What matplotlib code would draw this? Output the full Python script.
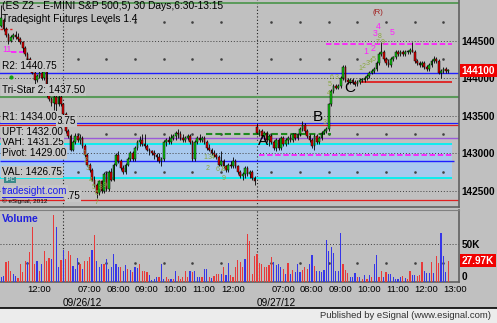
import numpy as np
import matplotlib
matplotlib.use("Agg")
import matplotlib.pyplot as plt
import matplotlib.transforms as mtransforms
from matplotlib.lines import Line2D
from matplotlib.patches import Rectangle

plt.rcParams["font.family"] = ["Liberation Sans", "DejaVu Sans"]

# ---------------- data (ES Z2, 5 min bars) ----------------
# (open, high, low, close); 09/25 tail, 09/26 session, 09/27 session
day0_bars = [
    (1447.0, 1449.75, 1446.75, 1448.0), (1447.75, 1448.0, 1446.25, 1446.5),
    (1446.5, 1446.75, 1445.5, 1445.75), (1445.75, 1446.0, 1444.5, 1445.0),
    (1445.0, 1445.75, 1444.75, 1445.5), (1445.5, 1446.0, 1445.25, 1445.75),
    (1445.75, 1446.25, 1445.25, 1445.5), (1445.5, 1446.0, 1445.0, 1445.25),
    (1445.25, 1445.5, 1444.5, 1444.75), (1444.75, 1445.0, 1443.5, 1444.0),
    (1444.0, 1444.25, 1443.0, 1443.25), (1443.25, 1443.5, 1442.25, 1442.5),
    (1442.5, 1442.75, 1441.5, 1441.75), (1441.75, 1442.0, 1440.5, 1440.75),
    (1440.75, 1441.0, 1437.75, 1439.75), (1439.75, 1440.5, 1439.5, 1440.25),
    (1440.25, 1441.0, 1440.0, 1440.75), (1440.75, 1441.25, 1439.75, 1440.0),
    (1440.0, 1441.5, 1439.75, 1441.0), (1441.0, 1441.25, 1437.5, 1437.75),
    (1437.75, 1438.0, 1437.0, 1437.25), (1437.25, 1437.5, 1436.25, 1436.75),
    (1436.75, 1437.75, 1435.75, 1437.5), (1437.5, 1437.75, 1435.5, 1436.5),
    (1436.5, 1437.75, 1436.25, 1437.5), (1437.5, 1437.75, 1436.25, 1436.5),
]
day1_bars = [
    (1436.5, 1436.75, 1435.0, 1435.25), (1435.25, 1435.5, 1432.75, 1433.0),
    (1433.0, 1433.25, 1432.0, 1432.25), (1432.25, 1432.5, 1430.25, 1430.5),
    (1430.5, 1431.75, 1430.25, 1431.5), (1431.5, 1432.75, 1431.25, 1432.25),
    (1432.25, 1432.5, 1431.5, 1431.75), (1431.75, 1432.5, 1431.25, 1432.0),
    (1432.0, 1432.25, 1430.75, 1431.0), (1431.0, 1431.25, 1429.5, 1429.75),
    (1429.75, 1430.0, 1428.25, 1428.5), (1428.5, 1428.75, 1427.5, 1427.75),
    (1427.75, 1428.0, 1426.25, 1426.5), (1426.5, 1427.0, 1425.5, 1425.75),
    (1425.75, 1426.0, 1424.0, 1424.75), (1424.75, 1426.5, 1424.5, 1426.25),
    (1426.25, 1426.5, 1424.75, 1425.0), (1425.0, 1427.5, 1424.75, 1427.25),
    (1427.25, 1427.5, 1425.0, 1425.25), (1425.25, 1427.75, 1425.0, 1427.5),
    (1427.5, 1428.0, 1426.25, 1426.5), (1426.5, 1428.75, 1426.25, 1428.5),
    (1428.5, 1430.0, 1428.25, 1429.75), (1429.75, 1430.25, 1428.75, 1429.0),
    (1429.0, 1429.25, 1427.75, 1428.0), (1428.0, 1428.5, 1427.25, 1427.5),
    (1427.5, 1428.75, 1427.25, 1428.5), (1428.5, 1429.5, 1428.25, 1429.25),
    (1429.25, 1430.25, 1429.0, 1430.0), (1430.0, 1430.25, 1429.0, 1429.25),
    (1429.25, 1431.0, 1429.0, 1430.75), (1430.75, 1431.75, 1430.5, 1431.5),
    (1431.5, 1432.25, 1431.0, 1431.75), (1431.75, 1432.5, 1431.0, 1431.25),
    (1431.25, 1432.5, 1430.75, 1431.0), (1431.0, 1431.25, 1430.25, 1430.5),
    (1430.5, 1430.75, 1429.75, 1430.25), (1430.25, 1430.5, 1429.75, 1430.0),
    (1430.0, 1430.5, 1429.25, 1429.75), (1429.75, 1430.0, 1429.0, 1429.5),
    (1429.5, 1430.0, 1428.75, 1429.0), (1429.0, 1429.5, 1428.25, 1429.25),
    (1429.25, 1431.75, 1429.0, 1431.5), (1431.5, 1432.0, 1431.0, 1431.75),
    (1431.75, 1432.25, 1431.25, 1431.5), (1431.5, 1432.5, 1431.25, 1432.0),
    (1432.0, 1432.5, 1431.75, 1432.25), (1432.25, 1433.0, 1431.75, 1432.75),
    (1432.75, 1433.25, 1432.0, 1432.5), (1432.5, 1433.0, 1431.75, 1432.0),
    (1432.0, 1432.5, 1431.5, 1431.75), (1431.75, 1432.25, 1431.5, 1432.0),
    (1432.0, 1432.5, 1431.75, 1432.25), (1432.25, 1432.5, 1431.25, 1431.5),
    (1431.5, 1431.75, 1429.0, 1429.25), (1429.25, 1431.75, 1429.0, 1431.5),
    (1431.5, 1432.25, 1431.25, 1432.0), (1432.0, 1432.5, 1431.5, 1431.75),
    (1431.75, 1432.25, 1431.5, 1432.0), (1432.0, 1432.25, 1431.25, 1431.5),
    (1431.5, 1431.75, 1430.5, 1430.75), (1430.75, 1431.25, 1430.25, 1430.5),
    (1430.5, 1430.75, 1429.75, 1430.0), (1430.0, 1430.5, 1429.5, 1429.75),
    (1429.75, 1430.0, 1429.25, 1429.5), (1429.5, 1429.75, 1428.25, 1428.5),
    (1428.5, 1430.25, 1428.25, 1429.0), (1429.0, 1429.25, 1428.0, 1428.25),
    (1428.25, 1428.5, 1427.5, 1427.75), (1427.75, 1428.75, 1427.5, 1428.5),
    (1428.5, 1429.0, 1428.0, 1428.25), (1428.25, 1429.5, 1428.0, 1429.0),
    (1429.0, 1429.25, 1428.0, 1428.25), (1428.25, 1428.5, 1427.25, 1427.5),
    (1427.5, 1427.75, 1426.75, 1427.0), (1427.0, 1427.5, 1426.5, 1427.25),
    (1427.25, 1428.25, 1426.75, 1428.0), (1428.0, 1428.25, 1427.0, 1427.25),
    (1427.25, 1427.75, 1426.75, 1427.5), (1427.5, 1427.75, 1426.5, 1426.75),
    (1426.75, 1427.0, 1425.75, 1426.25),
]
day2_bars = [
    (1433.5, 1434.0, 1432.5, 1432.75), (1432.75, 1433.25, 1432.25, 1433.0),
    (1433.0, 1433.25, 1432.0, 1432.25), (1432.25, 1433.0, 1431.75, 1432.75),
    (1432.75, 1433.0, 1431.5, 1431.75), (1431.75, 1432.5, 1431.0, 1432.25),
    (1432.25, 1432.5, 1431.25, 1431.5), (1431.5, 1431.75, 1430.5, 1430.75),
    (1430.75, 1432.0, 1430.25, 1431.75), (1431.75, 1432.0, 1430.5, 1430.75),
    (1430.75, 1432.25, 1430.5, 1432.0), (1432.0, 1432.25, 1431.0, 1431.25),
    (1431.25, 1432.0, 1431.0, 1431.75), (1431.75, 1432.25, 1431.25, 1432.0),
    (1432.0, 1432.5, 1431.5, 1431.75), (1431.75, 1432.75, 1431.5, 1432.5),
    (1432.5, 1432.75, 1431.75, 1432.0), (1432.0, 1432.75, 1431.75, 1432.5),
    (1432.5, 1433.5, 1432.25, 1433.25), (1433.25, 1434.25, 1433.0, 1433.75),
    (1433.75, 1434.0, 1432.75, 1433.0), (1433.0, 1433.25, 1432.0, 1432.25),
    (1432.25, 1432.5, 1431.5, 1431.75), (1431.75, 1432.0, 1430.75, 1431.0),
    (1431.0, 1432.5, 1430.5, 1432.25), (1432.25, 1432.5, 1431.25, 1431.5),
    (1431.5, 1432.25, 1431.25, 1432.0), (1432.0, 1433.0, 1431.75, 1432.75),
    (1432.75, 1433.25, 1432.5, 1433.0), (1433.0, 1433.5, 1432.75, 1433.25),
    (1433.25, 1436.75, 1433.0, 1436.5), (1436.5, 1438.5, 1436.25, 1438.25),
    (1438.25, 1439.25, 1438.0, 1439.0), (1439.0, 1439.25, 1438.5, 1438.75),
    (1438.75, 1439.25, 1438.5, 1439.0), (1439.0, 1440.25, 1438.75, 1440.0),
    (1440.0, 1441.75, 1439.75, 1441.5), (1441.5, 1441.75, 1439.5, 1439.75),
    (1439.75, 1440.0, 1439.25, 1439.5), (1439.5, 1440.0, 1439.25, 1439.75),
    (1439.75, 1440.0, 1439.25, 1439.5), (1439.5, 1439.75, 1439.0, 1439.25),
    (1439.25, 1439.75, 1439.0, 1439.5), (1439.5, 1440.0, 1439.25, 1439.75),
    (1439.75, 1440.0, 1439.5, 1439.75), (1439.75, 1440.25, 1439.5, 1440.0),
    (1440.0, 1440.5, 1439.75, 1440.25), (1440.25, 1441.0, 1440.0, 1440.75),
    (1440.75, 1441.25, 1440.5, 1441.0), (1441.0, 1441.5, 1440.75, 1441.25),
    (1441.25, 1442.25, 1441.0, 1442.0), (1442.0, 1443.5, 1441.75, 1443.25),
    (1443.25, 1444.75, 1443.0, 1443.5), (1443.5, 1443.75, 1442.25, 1442.5),
    (1442.5, 1442.75, 1441.75, 1442.0), (1442.0, 1442.5, 1441.5, 1441.75),
    (1441.75, 1442.75, 1441.5, 1442.5), (1442.5, 1443.0, 1442.25, 1442.75),
    (1442.75, 1443.75, 1442.5, 1443.5), (1443.5, 1443.75, 1443.0, 1443.25),
    (1443.25, 1443.75, 1443.0, 1443.5), (1443.5, 1443.75, 1443.0, 1443.25),
    (1443.25, 1443.75, 1443.0, 1443.5), (1443.5, 1443.75, 1443.25, 1443.5),
    (1443.5, 1444.0, 1443.25, 1443.75), (1443.75, 1444.75, 1443.5, 1443.5),
    (1443.5, 1443.75, 1442.0, 1442.25), (1442.25, 1442.5, 1441.75, 1442.0),
    (1442.0, 1442.25, 1441.5, 1441.75), (1441.75, 1442.25, 1441.5, 1442.0),
    (1442.0, 1442.25, 1441.25, 1441.5), (1441.5, 1441.75, 1441.0, 1441.25),
    (1441.25, 1442.0, 1441.0, 1441.75), (1441.75, 1442.5, 1441.5, 1442.25),
    (1442.25, 1443.0, 1442.0, 1442.5), (1442.5, 1442.75, 1442.0, 1442.25),
    (1442.25, 1442.5, 1440.5, 1440.75), (1440.75, 1441.25, 1440.0, 1441.0),
    (1441.0, 1441.5, 1440.75, 1441.25), (1441.25, 1441.5, 1440.75, 1441.0),
    (1441.0, 1441.25, 1440.75, 1441.0),
]

# volume in thousands, colour code: b = up volume, r = down volume
day0_volume = [6, 8, 26, 28, 14, 10, 8, 5, 24, 13, 28, 26, 39, 72, 23, 28, 15,
               24, 40, 27, 31, 30, 87, 72, 20, 29]
day1_volume = [42, 30, 40, 35, 21, 17, 31, 23, 17, 27, 28, 33, 42, 62, 28, 19,
               24, 23, 30, 17, 20, 36, 23, 19, 20, 14, 22, 17, 16, 13, 19, 18,
               23, 15, 14, 13, 9, 3, 4, 7, 7, 23, 4, 7, 4, 4, 4, 15, 8, 4, 7,
               14, 6, 14, 13, 14, 7, 7, 7, 17, 17, 7, 5, 8, 10, 10, 11, 19, 9,
               25, 9, 7, 19, 29, 26, 20, 30, 63, 54, 11, 34]
day2_volume = [37, 25, 24, 20, 19, 22, 33, 26, 22, 24, 19, 17, 11, 25, 11, 16,
               13, 23, 13, 16, 19, 17, 24, 35, 21, 15, 14, 13, 16, 55, 41, 46,
               38, 14, 15, 64, 24, 16, 12, 7, 7, 12, 7, 7, 4, 9, 4, 9, 7, 24,
               35, 7, 14, 7, 13, 11, 10, 7, 4, 4, 6, 8, 5, 4, 15, 9, 9, 8, 9,
               26, 14, 12, 12, 26, 12, 34, 25, 64, 34, 13, 27.97]
day0_vol_dir = "bbrrrbbrrrrbrrrbrbrrrbrbbr"
day1_vol_dir = ("brrrbbbrbr" "rrbrbbbrbb" "bbbbrbbrbr" "bbrrrrbbbb" "rbbrrbrbrr"
                "rrrbrbbbrb" "brbrrrbrbb" "rrrrrrbrrr" "r")
day2_vol_dir = ("rrrrrrrbbb" "brbrbrbbbr" "rrbbrbbbbb" "bbbbbbrrrb" "bbrbrbrbrb"
                "brrbrbbbbb" "brbrrbbrrr" "bbbrbrrbbb" "r")

# time axis
time_tick_bars = [11, 32, 44, 56, 68, 80, 92, 113, 125, 137, 149, 161, 173, 185]
time_tick_labels = ["12:00", "07:00", "08:00", "09:00", "10:00", "11:00",
                    "12:00", "07:00", "08:00", "09:00", "10:00", "11:00",
                    "12:00", "13:00"]
session_starts = [26, 107]
session_dates = ["09/26/12", "09/27/12"]

# Tradesight levels
r2 = 1440.75
tri_star = 1437.50
r1 = 1434.00
r1_low = 1433.75
upt = 1432.00
vah = 1431.25
pivot = 1429.00
val = 1426.75
s_low = 1423.75
top_level = 1450.0
last_price = 1441.00
last_volume = 27.97

bars = day0_bars + day1_bars + day2_bars
o, h, l, c = (np.array(v) for v in zip(*bars))
volume = np.array(day0_volume + day1_volume + day2_volume)
vol_dir = day0_vol_dir + day1_vol_dir + day2_vol_dir
idx = np.arange(len(bars))

# ---------------- figure ----------------
W, H = 497, 323
BG = "#c0c0c0"
fig = plt.figure(figsize=(W / 100, H / 100), dpi=100, facecolor=BG)
ax = fig.add_axes([0, (H - 207) / H, 459 / W, 207 / H], facecolor=BG)
axv = fig.add_axes([0, (H - 282) / H, 459 / W, 72 / H], facecolor=BG)

xmin, xmax = -0.5, 191.5
ax.set_xlim(xmin, xmax)
ax.set_ylim(1422.85, 1450.4)
axv.set_xlim(xmin, xmax)
axv.set_ylim(0, 94)

for a in (ax, axv):
    for side in ("left", "top"):
        a.spines[side].set_visible(False)
    for side in ("right", "bottom"):
        a.spines[side].set_color("#606060")
        a.spines[side].set_linewidth(1.2)
axv.spines["top"].set_visible(True)
axv.spines["top"].set_color("#808080")

dot = (0, (1, 2))
# grid
for p in [1425, 1430, 1435, 1440, 1445]:
    ax.axhline(p, color="#404040", lw=0.7, ls=dot, zorder=1)
axv.axhline(50, color="#404040", lw=0.7, ls=dot, zorder=1)
for p in [1427.5, 1432.5, 1442.5, 1447.5]:
    ax.plot(time_tick_bars, [p] * len(time_tick_bars), ls="none", marker="s",
            ms=0.8, color="#404040", zorder=1)
axv.plot(time_tick_bars, [25] * len(time_tick_bars), ls="none", marker="s",
         ms=0.8, color="#404040", zorder=1)
for s in session_starts:
    ax.axvline(s, color="#202020", lw=0.8, ls=dot, zorder=1)
    axv.axvline(s, color="#202020", lw=0.8, ls=dot, zorder=1)

# value area fill and level lines
ax.fill_between([xmin, 188.6], vah, val, color="#a9c9ee", zorder=0.5, lw=0)
ax.axhline(top_level, color="#5a9a5a", lw=1.4, zorder=2)
ax.axhline(r2, color="#1e1eff", lw=1.0, zorder=2)
ax.axhline(tri_star, color="#5a9a5a", lw=1.5, zorder=2)
ax.axhline(r1, color="#1e1eff", lw=0.9, zorder=2)
ax.axhline(r1_low, color="#e02020", lw=0.9, zorder=2)
ax.axhline(upt, color="#9a5ad8", lw=1.0, zorder=2)
ax.hlines([vah, val], xmin, 188.6, color="#00f0f0", lw=1.3, zorder=2)
ax.hlines(pivot, xmin, 189.5, color="#1e1eff", lw=1.0, zorder=2)
ax.axhline(s_low, color="#e02020", lw=0.9, zorder=2)
ax.hlines(1432.5, 85.8, 138, color="#1e8a1e", lw=1.5, ls=(0, (3, 1.5)), zorder=2)
ax.hlines(1444.5, 136, 188.5, color="#ff20ff", lw=1.3, ls=(0, (3, 1.5)), zorder=2)
ax.hlines(1429.75, 108, 188.5, color="#ff20ff", lw=1.3, ls=(0, (3, 1.5)), zorder=2)
ax.hlines(1439.5, 150.5, 188.5, color="#e02020", lw=1.3, zorder=2)
ax.hlines(1443.5, 4, 10, color="#ff20ff", lw=1.3, ls=(0, (3, 1.5)), zorder=2)
ax.hlines(1446.5, xmin, 4.5, color="#e02020", lw=1.0, ls=(0, (2, 1.5)), zorder=2)
ax.plot([4.1], [1440.1], marker="o", ms=2, color="#10a010", zorder=3)

# candles
up = c >= o
ax.vlines(idx, l, h, color="black", lw=0.6, zorder=3)
body = np.maximum(np.abs(c - o), 0.08)
ax.bar(idx, body, bottom=np.minimum(o, c), width=0.72,
       color=np.where(up, "#10c810", "#e00000"), edgecolor="black",
       linewidth=0.35, zorder=4)

# volume bars
vcol = ["#3636e8" if d == "b" else "#e83a3a" for d in vol_dir]
axv.bar(idx, volume, width=0.5, color=vcol, zorder=3)

# ---------------- axes labels ----------------
ax.yaxis.tick_right()
ax.set_yticks([1425, 1430, 1435, 1440, 1445])
ax.set_yticklabels([f"{p * 100:.0f}" for p in [1425, 1430, 1435, 1440, 1445]])
ax.tick_params(axis="y", length=0, pad=2, labelsize=7.2)
for t in ax.get_yticklabels():
    t.set_fontweight("bold")
ax.set_xticks([])

axv.yaxis.tick_right()
axv.set_yticks([0, 50])
axv.set_yticklabels(["0", "50K"])
axv.tick_params(axis="y", length=0, pad=2, labelsize=7.2)
for t in axv.get_yticklabels():
    t.set_fontweight("bold")
axv.get_yticklabels()[0].set_va("bottom")
axv.set_xticks(time_tick_bars)
axv.set_xticklabels(time_tick_labels)
axv.tick_params(axis="x", length=0, pad=2.5, labelsize=6.8)
for t in axv.get_xticklabels():
    t.set_ha("left")

tr_v = mtransforms.blended_transform_factory(axv.transData, axv.transAxes)
for s, d in zip(session_starts, session_dates):
    axv.text(s - 0.3, -0.285, d, transform=tr_v, ha="left", va="center",
             fontsize=7.2)

tr_r = mtransforms.blended_transform_factory(ax.transAxes, ax.transData)
ax.text(1.006, last_price, f"{last_price * 100:.0f}", transform=tr_r,
        ha="left", va="center", fontsize=7.2, fontweight="bold", color="white",
        bbox=dict(boxstyle="square,pad=0.18", fc="#f00000", ec="none"), zorder=6)
tr_rv = mtransforms.blended_transform_factory(axv.transAxes, axv.transData)
axv.text(1.006, last_volume, f"{last_volume:.2f}K", transform=tr_rv,
         ha="left", va="center", fontsize=7.2, fontweight="bold", color="white",
         bbox=dict(boxstyle="square,pad=0.18", fc="#f00000", ec="none"), zorder=6)
axv.text(2 / 459, 0.875, "Volume", transform=axv.transAxes, ha="left",
         va="center", fontsize=7.5, fontweight="bold", color="#2020dd")

# titles
fig.text(2 / W, 1 - 6 / H, "(ES Z2 - E-MINI S&P 500,5) 30 Days,6:30-13:15",
         ha="left", va="center", fontsize=7.4)
fig.text(2 / W, 1 - 19 / H, "Tradesight Futures Levels 1.4",
         ha="left", va="center", fontsize=7.4)

# level labels on the left
lab_box = dict(boxstyle="square,pad=0.08", fc="#c6c6c6", ec="none")
for y, txt in [(1441.6, "R2: 1440.75"), (1438.4, "Tri-Star 2: 1437.50"),
               (1431.45, "VAH: 1431.25"), (1432.83, "UPT: 1432.00"),
               (1430.04, "Pivot: 1429.00"), (1427.5, "VAL: 1426.75")]:
    ax.text(0.3, y, txt, ha="left", va="center", fontsize=7.2, bbox=lab_box,
            zorder=7)
ax.text(23.3, 1434.3, "3.75", ha="left", va="center", fontsize=7.2,
        bbox=lab_box, zorder=7)
ax.text(0.3, 1434.83, "R1: 1434.00", ha="left", va="center", fontsize=7.2,
        bbox=lab_box, zorder=7)
ax.text(1.6, 1426.45, "IPC", ha="left", va="center", fontsize=4.2,
        color="white", bbox=dict(boxstyle="square,pad=0.15", fc="#3a8a8a",
                                 ec="none"), zorder=7)
ax.text(27.2, 1424.3, ".75", ha="left", va="center", fontsize=7.2,
        bbox=lab_box, zorder=7)
ax.text(0.3, 1425.0, "tradesight.com", ha="left", va="center", fontsize=7.2,
        color="#1a1aee", bbox=lab_box, zorder=7)
fig.add_artist(Line2D([2 / W, 62 / W], [1 - 197 / H] * 2, color="#1a1aee",
                      lw=0.7))
ax.text(0.3, 1423.62, "\u00a9 eSignal, 2012", ha="left", va="center",
        fontsize=4.6, zorder=7)
ax.text(0.3, 1443.8, "11", ha="left", va="center", fontsize=6.5,
        color="#ff20ff", zorder=7)

# A / B / C
for x, y, t in [(109.5, 1431.7, "A"), (132.6, 1434.8, "B"), (145.9, 1438.7, "C")]:
    ax.text(x, y, t, ha="center", va="center", fontsize=11, zorder=7)

# sequential counts
td_green = [(34.6, 1430.0, "1"), (35.5, 1429.0, "2"), (36.3, 1428.0, "3"),
            (37.6, 1426.4, "4"), (38.8, 1425.5, "5"), (39.7, 1424.6, "6"),
            (40.1, 1423.4, "7"), (41.8, 1425.4, "8"), (43.4, 1425.7, "9"),
            (85.3, 1429.5, "1"), (86.5, 1428.0, "2"), (87.4, 1429.5, "3"),
            (88.6, 1429.5, "4"), (90.7, 1427.9, "6"), (92.0, 1427.9, "7"),
            (93.2, 1427.9, "8"), (93.2, 1426.6, "9"), (135.3, 1434.1, "3"),
            (137.2, 1438.0, "4"), (137.6, 1439.1, "5"), (138.4, 1440.15, "6"),
            (140.5, 1440.15, "3"), (150.4, 1441.3, "1"), (151.8, 1441.6, "2"),
            (153.2, 1441.9, "3"), (154.6, 1442.2, "4"), (156.0, 1442.5, "5"),
            (157.5, 1444.8, "7"), (158.3, 1445.6, "8"), (159.6, 1444.8, "9")]
for x, y, t in td_green:
    ax.text(x, y, t, ha="center", va="center", fontsize=5.0, color="#8aa840",
            zorder=8)
for x, y, t in [(152.6, 1443.6, "1"), (155.6, 1444.0, "2"), (156.4, 1446.0, "3"),
                (157.7, 1446.9, "4"), (163.5, 1446.1, "5")]:
    ax.text(x, y, t, ha="center", va="center", fontsize=6.3, color="#ff20ff",
            zorder=8)
ax.text(157.7, 1448.7, "(R)", ha="center", va="center", fontsize=5.6,
        color="#a01818", zorder=8)

# footer strip
fig.add_artist(Rectangle((0, 0), 1, 15 / H, transform=fig.transFigure,
                         facecolor="#ececec", edgecolor="none"))
fig.add_artist(Line2D([0, 1], [15 / H] * 2, color="black", lw=1.2))
fig.text(491 / W, 7 / H, "Published by eSignal (www.esignal.com)", ha="right",
         va="center", fontsize=6.8, color="#303030")

fig.savefig("out.png", dpi=100, facecolor=BG)
